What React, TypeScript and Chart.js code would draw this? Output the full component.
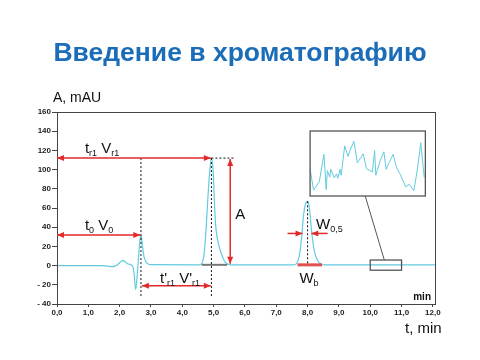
import React, { useEffect, useRef } from "react";
import { Chart, registerables } from "chart.js";

Chart.register(...registerables);

const FONT = '"Liberation Sans", Arial, Helvetica, sans-serif';

// Chromatogram (time in min, absorbance in mAU)
const timeMin = [0, 1.4, 1.55, 1.7, 1.85, 1.95, 2.05, 2.1, 2.17, 2.25, 2.35, 2.42, 2.46, 2.51, 2.55, 2.59, 2.63, 2.68, 2.73, 2.78, 2.84, 2.9, 3.0, 4.55, 4.62, 4.67, 4.71, 4.77, 4.82, 4.87, 4.93, 4.99, 5.02, 5.06, 5.12, 5.21, 5.3, 5.38, 5.45, 5.55, 7.55, 7.65, 7.72, 7.78, 7.82, 7.87, 7.93, 8.0, 8.05, 8.1, 8.14, 8.2, 8.27, 8.35, 8.44, 8.55, 12.1];
const absorbance = [0, 0, -0.3, -1, -0.5, 1.5, 4.5, 5.5, 4, 2, 1, -1, -8, -25, -14, 2, 20, 32, 20, 9, 4, 2, 1, 0.8, 2, 7, 16, 44, 72, 96, 112, 96, 70, 44, 28, 16, 8, 3, 1.5, 0.8, 0.8, 2, 8, 20, 33, 52, 64, 67, 62, 46, 33, 18, 9, 4, 1.5, 0.8, 0.8];

// Magnified baseline noise between 10 and 11 min (relative units 0..1)
const noiseTime = [10.0, 10.03, 10.08, 10.12, 10.14, 10.15, 10.17, 10.18, 10.21, 10.23, 10.24, 10.26, 10.27, 10.3, 10.33, 10.35, 10.38, 10.41, 10.44, 10.46, 10.49, 10.54, 10.56, 10.57, 10.61, 10.64, 10.66, 10.69, 10.72, 10.75, 10.78, 10.83, 10.86, 10.9, 10.93, 10.96, 10.99];
const noiseLevel = [0.42, 0.09, 0.22, 0.64, 0.1, 0.39, 0.29, 0.41, 0.28, 0.34, 0.27, 0.41, 0.32, 0.77, 0.61, 0.72, 0.84, 0.51, 0.59, 0.65, 0.42, 0.37, 0.7, 0.32, 0.55, 0.68, 0.41, 0.53, 0.64, 0.44, 0.34, 0.14, 0.18, 0.08, 0.4, 0.82, 0.29];

// Axis ticks
const xTicks = [0, 1, 2, 3, 4, 5, 6, 7, 8, 9, 10, 11, 12];
const yTicks = [-40, -20, 0, 20, 40, 60, 80, 100, 120, 140, 160];

const TITLE = "Введение в хроматографию";
const RED = "#e2292b";
const CYAN = "#62cbe0";

function head(ctx: CanvasRenderingContext2D, x: number, y: number, ang: number) {
  const L = 7, W = 3;
  ctx.beginPath();
  ctx.moveTo(x, y);
  ctx.lineTo(x - L * Math.cos(ang) + W * Math.sin(ang), y - L * Math.sin(ang) - W * Math.cos(ang));
  ctx.lineTo(x - L * Math.cos(ang) - W * Math.sin(ang), y - L * Math.sin(ang) + W * Math.cos(ang));
  ctx.closePath();
  ctx.fill();
}

function arrow(ctx: CanvasRenderingContext2D, x1: number, y1: number, x2: number, y2: number, h1: boolean, h2: boolean) {
  ctx.save();
  ctx.strokeStyle = RED;
  ctx.fillStyle = RED;
  ctx.lineWidth = 1.5;
  ctx.setLineDash([]);
  ctx.beginPath();
  ctx.moveTo(x1, y1);
  ctx.lineTo(x2, y2);
  ctx.stroke();
  const a = Math.atan2(y2 - y1, x2 - x1);
  if (h2) head(ctx, x2, y2, a);
  if (h1) head(ctx, x1, y1, a + Math.PI);
  ctx.restore();
}

function dotted(ctx: CanvasRenderingContext2D, x1: number, y1: number, x2: number, y2: number) {
  ctx.save();
  ctx.strokeStyle = "#111";
  ctx.lineWidth = 1;
  ctx.setLineDash([2, 2]);
  ctx.beginPath();
  ctx.moveTo(x1, y1);
  ctx.lineTo(x2, y2);
  ctx.stroke();
  ctx.restore();
}

function runs(ctx: CanvasRenderingContext2D, x: number, y: number, parts: [string, boolean][], size = 15) {
  ctx.save();
  ctx.fillStyle = "#111";
  ctx.textAlign = "left";
  ctx.textBaseline = "alphabetic";
  for (const [t, sub] of parts) {
    ctx.font = `${sub ? 9 : size}px ${FONT}`;
    ctx.fillText(t, x, sub ? y + 3 : y);
    x += ctx.measureText(t).width;
  }
  ctx.restore();
}

const overlay = {
  id: "overlay",
  afterDraw(chart: any) {
    const ctx: CanvasRenderingContext2D = chart.ctx;
    const xs = chart.scales.x, ys = chart.scales.y;
    const X = (v: number) => xs.getPixelForValue(v);
    const Y = (v: number) => ys.getPixelForValue(v);
    const ca = chart.chartArea;

    ctx.save();
    // frame
    ctx.strokeStyle = "#444";
    ctx.lineWidth = 1;
    ctx.strokeRect(ca.left + 0.5, ca.top + 0.5, ca.right - ca.left - 1, ca.bottom - ca.top);

    // peak base lines
    ctx.strokeStyle = "#777";
    ctx.lineWidth = 2;
    ctx.beginPath();
    ctx.moveTo(X(4.62), Y(0.8));
    ctx.lineTo(X(5.43), Y(0.8));
    ctx.stroke();
    ctx.strokeStyle = "#e0504f";
    ctx.lineWidth = 3;
    ctx.beginPath();
    ctx.moveTo(X(7.68), Y(0.8));
    ctx.lineTo(X(8.46), Y(0.8));
    ctx.stroke();

    // dotted guides
    dotted(ctx, X(2.68), Y(112), X(2.68), Y(-32));
    dotted(ctx, X(4.93), Y(112), X(4.93), Y(-32));
    dotted(ctx, X(4.93), Y(112), X(5.68), Y(112));
    dotted(ctx, X(8.0), Y(67), X(8.0), Y(0.8));

    // arrows
    arrow(ctx, X(0), Y(112), X(4.91), Y(112), true, true);
    arrow(ctx, X(0), Y(32), X(2.66), Y(32), true, true);
    arrow(ctx, X(2.71), Y(-21), X(4.91), Y(-21), true, true);
    arrow(ctx, X(5.53), Y(2), X(5.53), Y(111), true, true);
    arrow(ctx, X(7.36), Y(33.5), X(7.84), Y(33.5), false, true);
    arrow(ctx, X(8.64), Y(33.5), X(8.12), Y(33.5), false, true);

    // labels
    runs(ctx, X(0.89), Y(117.6), [["t", false], ["r1", true], [" V", false], ["r1", true]]);
    runs(ctx, X(0.89), Y(37), [["t", false], ["0", true], [" V", false], ["0", true]]);
    runs(ctx, X(3.29), Y(-17.8), [["t'", false], ["r1", true], [" V'", false], ["r1", true]]);
    runs(ctx, X(5.69), Y(48.2), [["A", false]]);
    runs(ctx, X(8.27), Y(37.8), [["W", false], ["0,5", true]]);
    runs(ctx, X(7.74), Y(-18), [["W", false], ["b", true]]);

    // inset
    const bx1 = X(8.08), bx2 = X(11.76), by1 = Y(140.2), by2 = Y(72.5);
    ctx.fillStyle = "#fff";
    ctx.fillRect(bx1, by1, bx2 - bx1, by2 - by1);
    ctx.strokeStyle = CYAN;
    ctx.lineWidth = 1;
    ctx.beginPath();
    noiseTime.forEach((t, i) => {
      const px = bx1 + (t - 10) * (bx2 - bx1);
      const py = by2 - noiseLevel[i] * (by2 - by1);
      if (i === 0) ctx.moveTo(px, py);
      else ctx.lineTo(px, py);
    });
    ctx.stroke();
    ctx.strokeStyle = "#555";
    ctx.lineWidth = 1.3;
    ctx.strokeRect(bx1, by1, bx2 - bx1, by2 - by1);
    ctx.strokeRect(X(10), Y(5.8), X(11) - X(10), Y(-4.8) - Y(5.8));
    ctx.lineWidth = 1;
    ctx.beginPath();
    ctx.moveTo(X(9.84), by2);
    ctx.lineTo(X(10.45), Y(5.8));
    ctx.stroke();

    // axis titles
    ctx.fillStyle = "#111";
    ctx.textBaseline = "alphabetic";
    ctx.textAlign = "left";
    ctx.font = `14px ${FONT}`;
    ctx.fillText("A, mAU", ca.left - 4, ca.top - 10);
    ctx.font = `15px ${FONT}`;
    ctx.fillText("t, min", ca.right - 31, ca.bottom + 29);
    ctx.font = `bold 10px ${FONT}`;
    ctx.textAlign = "right";
    ctx.fillText("min", ca.right - 5, ca.bottom - 4);

    // title
    ctx.fillStyle = "#1b6db8";
    ctx.font = `bold 26.5px ${FONT}`;
    ctx.textAlign = "center";
    ctx.fillText(TITLE, 240, 61);
    ctx.restore();
  },
};

export default function App() {
  const ref = useRef<HTMLCanvasElement>(null);
  useEffect(() => {
    const chart = new Chart(ref.current as HTMLCanvasElement, {
      type: "line",
      data: {
        datasets: [
          {
            data: timeMin.map((t, i) => ({ x: t, y: absorbance[i] })),
            borderColor: CYAN,
            borderWidth: 1.2,
            pointRadius: 0,
            cubicInterpolationMode: "monotone",
            fill: false,
          },
        ],
      },
      options: {
        responsive: false,
        animation: false,
        layout: { padding: { left: 0, right: 44, top: 112, bottom: 0 } },
        plugins: { legend: { display: false }, tooltip: { enabled: false }, title: { display: false } },
        scales: {
          x: {
            type: "linear",
            min: 0,
            max: 12.1,
            afterBuildTicks: (s: any) => {
              s.ticks = xTicks.map((v) => ({ value: v }));
            },
            ticks: {
              autoSkip: false,
              maxRotation: 0,
              padding: 1,
              color: "#222",
              font: { family: FONT, size: 8, weight: "bold" },
              callback: (v: any) => Number(v).toFixed(1).replace(".", ","),
            },
            grid: { display: true, drawOnChartArea: false, drawTicks: true, tickLength: 3, color: "#444" },
            border: { display: false },
            afterFit: (s: any) => {
              s.height = 56;
            },
          },
          y: {
            type: "linear",
            min: -40,
            max: 160,
            afterBuildTicks: (s: any) => {
              s.ticks = yTicks.map((v) => ({ value: v }));
            },
            ticks: {
              autoSkip: false,
              padding: 1,
              color: "#222",
              font: { family: FONT, size: 8, weight: "bold" },
              callback: (v: any) => (Number(v) < 0 ? "- " + Math.abs(Number(v)) : String(v)),
            },
            grid: { display: true, drawOnChartArea: false, drawTicks: true, tickLength: 5, color: "#444" },
            border: { display: false },
            afterFit: (s: any) => {
              s.width = 57;
            },
          },
        },
      } as any,
      plugins: [overlay],
    });
    return () => chart.destroy();
  }, []);
  return (
    <div style={{ position: "fixed", left: 0, top: 0, width: 480, height: 360, background: "#fff" }}>
      <canvas ref={ref} width={480} height={360} style={{ display: "block", width: 480, height: 360 }} />
    </div>
  );
}
